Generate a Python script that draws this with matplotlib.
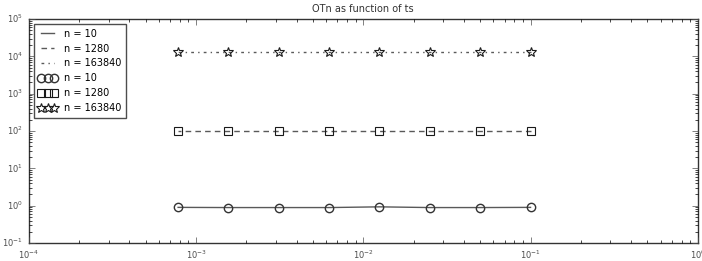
import matplotlib
matplotlib.use("Agg")
import matplotlib.pyplot as plt

plt.style.use('classic')

ts = [0.1, 0.05, 0.025, 0.0125, 0.00625, 0.003125, 0.0015625, 0.00078125]
otn_10 = [0.9, 0.89, 0.89, 0.93, 0.89, 0.89, 0.89, 0.9]
otn_1280 = [100, 100, 100, 100, 100, 100, 100, 100]
otn_163840 = [13200, 13200, 13200, 13200, 13200, 13200, 13200, 13200]
labels = ["n = 10", "n = 1280", "n = 163840"]

fig = plt.figure(figsize=(7.02, 2.61), dpi=100)
ax = fig.add_axes([0.041, 0.069, 0.953, 0.858])

lc = '0.35'
ax.plot(ts, otn_10, linestyle='-', color=lc, label=labels[0])
ax.plot(ts, otn_1280, linestyle='--', color=lc, label=labels[1], dashes=(4, 3))
ax.plot(ts, otn_163840, linestyle='-.', color=lc, label=labels[2], dashes=(2, 3, 1, 3))
ax.plot(ts, otn_10, linestyle='none', marker='o', mfc='none', mec='0.2', ms=6, mew=1, label=labels[0])
ax.plot(ts, otn_1280, linestyle='none', marker='s', mfc='none', mec='0.1', ms=6, mew=0.8, label=labels[1])
ax.plot(ts, otn_163840, linestyle='none', marker='*', mfc='none', mec='0.1', ms=7, mew=0.8, label=labels[2])

ax.set_xscale('log')
ax.set_yscale('log')
ax.set_xlim(1e-4, 1)
ax.set_ylim(1e-1, 1e5)
ax.set_title("OTn as function of ts", fontsize=7, color='0.2')
ax.tick_params(labelsize=6, colors='0.3')
for s in ax.spines.values():
    s.set_color('0.2')
leg = ax.legend(loc='upper left', fontsize=7, numpoints=3, handlelength=1.9,
                borderpad=0.5, labelspacing=0.5, handletextpad=0.7)
leg.get_frame().set_edgecolor('0.3')

fig.savefig("out.png", dpi=100)
